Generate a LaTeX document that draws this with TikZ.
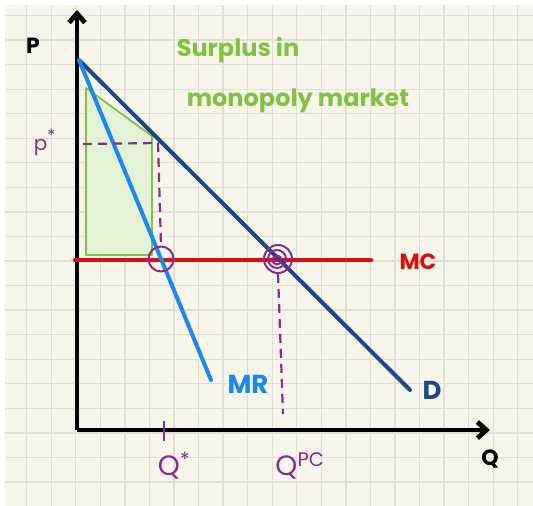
\documentclass[tikz,border=0pt]{standalone}
\usepackage{fontspec}
\setmainfont{Poppins}
\usetikzlibrary{arrows.meta}

\definecolor{paper}{HTML}{F7F5EA}
\definecolor{gridln}{HTML}{E2DFD2}
\definecolor{demand}{HTML}{17488A}
\definecolor{revenue}{HTML}{1A88F0}
\definecolor{cost}{HTML}{D90F0F}
\definecolor{plum}{HTML}{8A2A8E}
\definecolor{surplus}{HTML}{80C342}

\begin{document}
\begin{tikzpicture}[x=1pt, y=-1pt,
    axis/.style={line width=4.8pt, -{Straight Barb[length=9pt, width=16pt]}},
    curve/.style={line width=4pt, line cap=round},
    guide/.style={plum, line width=2.2pt, dash pattern=on 9pt off 6pt},
    ring/.style={circle, draw=plum, line width=2pt, inner sep=0pt},
    lbl/.style={font=\fontsize{22}{24}\selectfont\bfseries, inner sep=0pt},
    hand/.style={font=\fontsize{24}{26}\selectfont, inner sep=0pt},
  ]
    \useasboundingbox (0,0) rectangle (533,506);
    % squared paper
    \fill[white] (0,0) rectangle (533,506);
    \fill[paper] (5,5) rectangle (533,506);
    \begin{scope}
      \clip (5,5) rectangle (533,506);
      \foreach \k in {1,...,21}
        \draw[gridln, line width=1.3pt] ({2.15+24.55*\k},5) -- ({2.15+24.55*\k},506);
      \foreach \k in {0,...,20}
        \draw[gridln, line width=1.3pt] (5,{15.5+24.55*\k}) -- (533,{15.5+24.55*\k});
    \end{scope}

    % surplus area
    \node[inner sep=0pt] (sa) at (86,88) {};
    \node[inner sep=0pt] (sb) at (152,136) {};
    \node[inner sep=0pt] (sc) at (152,255) {};
    \node[inner sep=0pt] (sd) at (86,255) {};
    \fill[surplus!22] (sa.center) -- (sb.center) -- (sc.center) -- (sd.center) -- cycle;
    \draw[surplus, line width=1.8pt, line join=round]
      (sa.center) -- (sb.center) -- (sc.center) -- (sd.center) -- cycle;

    % axes
    \coordinate (origin) at (77,430);
    \coordinate (ytop) at (77,10);
    \coordinate (xend) at (490,430);
    \draw[axis] (origin) -- (ytop);
    \draw[axis] (origin) -- (xend);
    \node[lbl] (plabel) at (33,46) {P};
    \node[lbl] (qlabel) at (490,459) {Q};

    % curves
    \coordinate (top) at (79,60);
    \coordinate (dend) at (410,390);
    \coordinate (mrend) at (211,380);
    \coordinate (mcstart) at (75,260);
    \coordinate (mcend) at (371,260);
    \draw[curve, cost, line width=4.4pt] (mcstart) -- (mcend);
    \draw[curve, demand] (top) -- (dend);
    \draw[curve, revenue] (top) -- (mrend);

    \node[lbl, cost] (mc) at (418,262) {MC};
    \node[lbl, revenue, font=\fontsize{26}{28}\selectfont\bfseries] (mr) at (248,384) {MR};
    \node[lbl, demand, font=\fontsize{26}{28}\selectfont\bfseries] (dlabel) at (432,390) {D};

    % monopoly price and quantity
    \coordinate (pa) at (83,144);
    \coordinate (pb) at (158,143);
    \node[ring, minimum size=25pt] (qstar) at (161,259) {};
    \draw[guide] (pa) -- (pb) -- (qstar.north);
    \node[hand, plum, font=\fontsize{20}{22}\selectfont] (pstar) at (45,142) {p{\fontsize{24}{24}\selectfont\textsuperscript{*}}};
    \coordinate (ta) at (164,421);
    \coordinate (tb) at (164,441);
    \draw[plum, line width=2.2pt] (ta) -- (tb);
    \node[hand, plum, font=\fontsize{28}{30}\selectfont] (qslabel) at (174,466) {Q\textsuperscript{*}};

    % competitive outcome
    \node[ring, minimum size=28pt] (qpc) at (278,259) {};
    \node[ring, minimum size=18pt] (qpcb) at (277,259) {};
    \node[ring, minimum size=9pt] (qpcc) at (277,260) {};
    \coordinate (pcend) at (283,414);
    \draw[guide] (qpc.south) -- (pcend);
    \node[hand, plum, font=\fontsize{28}{30}\selectfont] (qpclabel) at (300,466) {Q\textsuperscript{PC}};

    % title
    \node[hand, surplus, font=\fontsize{24}{26}\selectfont\bfseries] (title1) at (238,50) {Surplus in};
    \node[hand, surplus, font=\fontsize{24}{26}\selectfont\bfseries] (title2) at (298,101) {monopoly market};
  \end{tikzpicture}
\end{document}
